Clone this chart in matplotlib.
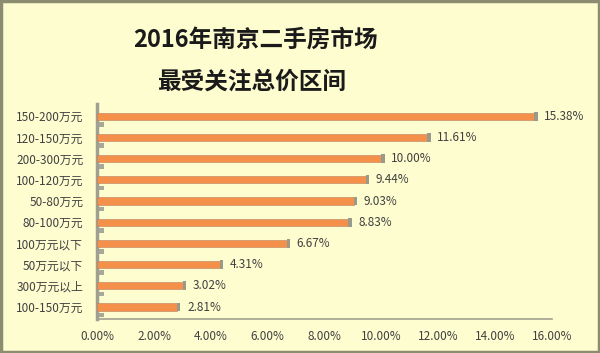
import numpy as np
import matplotlib.pyplot as plt

plt.rcParams['font.family'] = ['Noto Sans CJK SC', 'DejaVu Sans']

# data (top to bottom)
categories = ["150-200万元", "120-150万元", "200-300万元", "100-120万元", "50-80万元",
              "80-100万元", "100万元以下", "50万元以下", "300万元以上", "100-150万元"]
shares = [15.38, 11.61, 10.00, 9.44, 9.03, 8.83, 6.67, 4.31, 3.02, 2.81]
xticks = [0, 2, 4, 6, 8, 10, 12, 14, 16]

bg = '#FEFDD0'
bar_color = '#F4904A'
cap_color = '#9A9A8A'
text_color = '#404040'

fig = plt.figure(figsize=(6.0, 3.53), dpi=100, facecolor=bg)
ax = fig.add_axes([0.162, 0.096, 0.758, 0.609])
ax.set_facecolor(bg)

y = np.arange(len(categories))

# 3D-ish "floor" stubs near the axis
ax.barh(y + 0.38, 0.22, height=0.22, left=0.02, color='#A8A89A', zorder=2)
# the bars
ax.barh(y, shares, height=0.34, color=bar_color, edgecolor='#B88060',
        linewidth=0.4, zorder=3)
# end caps
ax.barh(y, 0.12, height=0.42, left=shares, color=cap_color, zorder=4)

for yi, v in zip(y, shares):
    ax.text(v + 0.35, yi, f"{v:.2f}%", va='center', ha='left',
            fontsize=8.5, color=text_color, zorder=5)

ax.set_xlim(0, 16)
ax.set_ylim(len(categories) - 0.43, -0.57)
ax.set_yticks(y)
ax.set_yticklabels(categories, fontsize=8.5, color=text_color)
ax.set_xticks(xticks)
ax.set_xticklabels([f"{t:.2f}%" for t in xticks], fontsize=8.5, color=text_color)
ax.tick_params(axis='both', length=0)
ax.tick_params(axis='y', pad=10)
ax.tick_params(axis='x', pad=8)

for side in ['top', 'right']:
    ax.spines[side].set_visible(False)
ax.spines['left'].set_color('#A0A090')
ax.spines['left'].set_linewidth(2.5)
ax.spines['bottom'].set_color('#A0A090')
ax.spines['bottom'].set_linewidth(1.2)

fig.text(0.425, 0.887, "2016年南京二手房市场", ha='center', va='center',
         fontsize=17, fontweight='bold', color='#1A1A1A')
fig.text(0.42, 0.768, "最受关注总价区间", ha='center', va='center',
         fontsize=17, fontweight='bold', color='#1A1A1A')

# outer frame
fig.patches.append(plt.Rectangle((0.002, 0.003), 0.996, 0.994, transform=fig.transFigure,
                                 fill=False, edgecolor='#8C8C70', linewidth=2.5))

fig.savefig('out.png', dpi=100, facecolor=bg)
